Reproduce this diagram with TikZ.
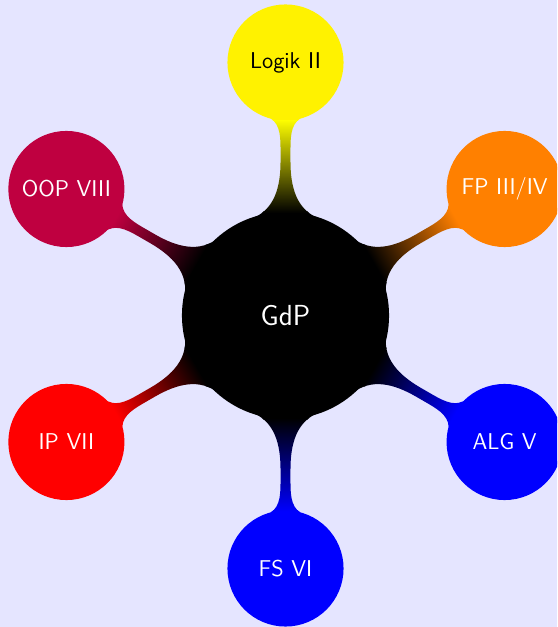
\documentclass[tikz,border=0pt]{standalone}
\usetikzlibrary{mindmap}
\begin{document}
\begin{tikzpicture}[
  mindmap,
  concept color=black,
  every node/.append style={text=white},
  rootbox/.style={concept, minimum size=4.1cm, text width=3cm, align=center,
    font=\sffamily\fontsize{16.5}{19}\selectfont},
  level 1/.append style={level distance=5.06cm},
  level 1 concept/.append style={minimum size=2.28cm, text width=2cm, inner sep=1pt,
    align=center, font=\sffamily\fontsize{13}{15}\selectfont}
]
  % page area and background
  \useasboundingbox (-5.71,-6.23) rectangle (5.43,6.31);
  \clip (-5.71,-6.23) rectangle (5.43,6.31);
  \fill[blue!10] (-5.71,-6.23) rectangle (5.43,6.31);

  \node[rootbox] (gdp) {GdP}
    child[grow=90,   concept color=yellow] {node[concept, text=black] (logik) {Logik II}}
    child[grow=30,   concept color=orange] {node[concept] (fp)  {FP III/IV}}
    child[grow=-30,  concept color=blue]   {node[concept] (alg) {ALG V}}
    child[grow=-90,  concept color=blue]   {node[concept] (fs)  {FS VI}}
    child[grow=-150, concept color=red]    {node[concept] (ip)  {IP VII}}
    child[grow=150,  concept color=purple] {node[concept] (oop) {OOP VIII}};
\end{tikzpicture}
\end{document}
